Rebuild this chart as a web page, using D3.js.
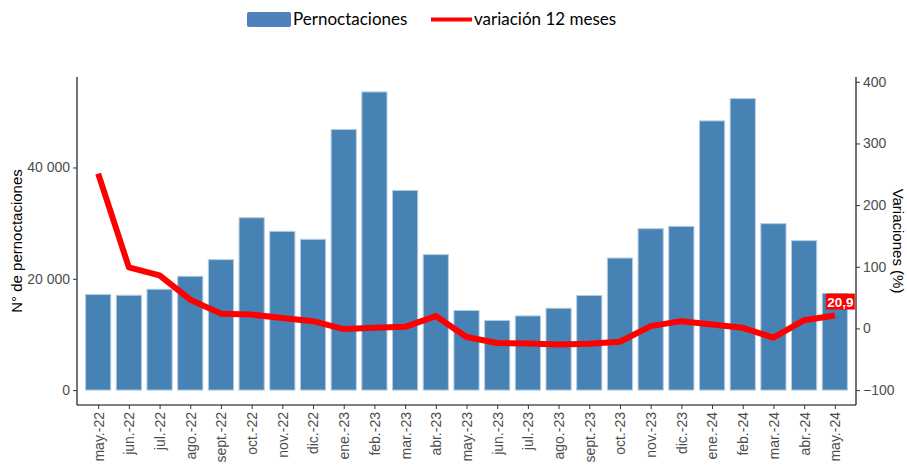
<!DOCTYPE html>
<html>
<head>
<meta charset="utf-8">
<script src="https://cdn.jsdelivr.net/npm/d3@7"></script>
<style>
  body { margin: 0; background: #fff; }
  svg { display: block; }
</style>
</head>
<body>
<div id="chart"></div>
<script>
const meses = ['may.-22', 'jun.-22', 'jul.-22', 'ago.-22', 'sept.-22', 'oct.-22', 'nov.-22', 'dic.-22',
    'ene.-23', 'feb.-23', 'mar.-23', 'abr.-23', 'may.-23', 'jun.-23', 'jul.-23', 'ago.-23', 'sept.-23',
    'oct.-23', 'nov.-23', 'dic.-23', 'ene.-24', 'feb.-24', 'mar.-24', 'abr.-24', 'may.-24']

const pernoctaciones = [17170, 17040, 18120, 20450, 23440, 30970, 28520, 27090,
    46820, 53580, 35870, 24340, 14300, 12500, 13330, 14710, 16990,
    23730, 29000, 29420, 48370, 52380, 29900, 26850, 17350]

const variacion = [251, 99, 86, 46.6, 24, 22.4, 17, 11.8,
    -1, 1, 2.6, 20, -14, -23.7, -24.3, -26, -24.8,
    -21.6, 3.7, 11.8, 6.3, 1, -15, 13.4, 20.9]

const ticksIzq = [0, 20000, 40000]
const ticksDer = [-100, 0, 100, 200, 300, 400]
const etiquetaFinal = '20,9'

// factor del eje secundario: (var + 100) * k
const k = 110.8

const width = 907, height = 466
const m = { left: 77, right: 856, top: 77, bottom: 405 }

const svg = d3.select('#chart').append('svg')
    .attr('width', width)
    .attr('height', height)
    .style('font-family', 'Liberation Sans, Arial, sans-serif')

const x = d3.scalePoint()
    .domain(meses)
    .range([m.left, m.right])
    .padding(0.69)

const maxV = d3.max(pernoctaciones)
const yL = d3.scaleLinear()
    .domain([-0.05 * maxV, 1.05 * maxV])
    .range([m.bottom, m.top])

const yR = d3.scaleLinear()
    .domain(yL.domain().map(v => v / k - 100))
    .range(yL.range())

const bw = x.step() * 0.82

// barras
svg.append('g')
    .selectAll('rect')
    .data(pernoctaciones)
    .join('rect')
    .attr('x', (d, i) => x(meses[i]) - bw / 2)
    .attr('y', d => yL(d))
    .attr('width', bw)
    .attr('height', d => yL(0) - yL(d))
    .attr('fill', '#4682B4')
    .attr('stroke', '#b4cce2')
    .attr('stroke-width', 1)

// linea variacion
const line = d3.line()
    .x((d, i) => x(meses[i]))
    .y(d => yR(d))

svg.append('path')
    .datum(variacion)
    .attr('d', line)
    .attr('fill', 'none')
    .attr('stroke', '#ff0000')
    .attr('stroke-width', 6)
    .attr('stroke-linejoin', 'round')

// etiqueta ultimo valor
const last = variacion.length - 1
const lx = x(meses[last]) + 5.5, ly = yR(variacion[last]) - 14
svg.append('rect')
    .attr('x', lx - 14.5).attr('y', ly - 8)
    .attr('width', 29).attr('height', 16)
    .attr('fill', '#ff0000')
svg.append('text')
    .attr('x', lx).attr('y', ly + 5)
    .attr('text-anchor', 'middle')
    .attr('fill', '#fff')
    .attr('font-weight', 'bold')
    .attr('font-size', 13.5)
    .text(etiquetaFinal)

// ejes
const styleAxis = g => {
    g.select('.domain').attr('stroke', '#000').attr('stroke-width', 1.1)
    g.selectAll('.tick line').attr('stroke', '#333')
    g.selectAll('.tick text').attr('fill', '#4d4d4d').style('font-size', '14px')
        .style('font-family', 'Liberation Sans, Arial, sans-serif')
}

svg.append('g')
    .attr('transform', `translate(${m.left},0)`)
    .call(d3.axisLeft(yL).tickValues(ticksIzq).tickSize(4).tickPadding(3)
        .tickFormat(d => d3.format(',')(d).replace(/,/g, ' ')).tickSizeOuter(0))
    .call(styleAxis)
    .select('.domain').attr('d', `M0,${m.top}V${m.bottom}`)

svg.append('g')
    .attr('transform', `translate(${m.right},0)`)
    .call(d3.axisRight(yR).tickValues(ticksDer).tickSize(4).tickPadding(3).tickSizeOuter(0))
    .call(styleAxis)
    .select('.domain').attr('d', `M0,${m.top}V${m.bottom}`)

const gx = svg.append('g')
    .attr('transform', `translate(0,${m.bottom})`)
    .call(d3.axisBottom(x).tickSize(4).tickSizeOuter(0))
    .call(styleAxis)
gx.select('.domain').attr('d', `M${m.left},0H${m.right}`)
gx.selectAll('.tick text')
    .attr('transform', 'rotate(-90)')
    .attr('text-anchor', 'end')
    .attr('x', -7)
    .attr('y', 0)
    .attr('dy', '0.35em')

// titulos de ejes
svg.append('text')
    .attr('transform', `translate(22,${(m.top + m.bottom) / 2}) rotate(-90)`)
    .attr('text-anchor', 'middle')
    .attr('font-size', 15)
    .attr('fill', '#000')
    .text('N° de pernoctaciones')

svg.append('text')
    .attr('transform', `translate(893,${(m.top + m.bottom) / 2}) rotate(90)`)
    .attr('text-anchor', 'middle')
    .attr('font-size', 15)
    .attr('fill', '#000')
    .text('Variaciones (%)')

// leyenda
const leg = svg.append('g').style('font-family', 'Lato, Carlito, sans-serif')
leg.append('rect')
    .attr('x', 247).attr('y', 12).attr('width', 44).attr('height', 15)
    .attr('rx', 2).attr('fill', '#4f81bd')
leg.append('text')
    .attr('x', 293).attr('y', 25).attr('font-size', 17).attr('fill', '#000')
    .text('Pernoctaciones')
leg.append('line')
    .attr('x1', 431).attr('x2', 472).attr('y1', 19.5).attr('y2', 19.5)
    .attr('stroke', '#ff0000').attr('stroke-width', 4)
leg.append('text')
    .attr('x', 474).attr('y', 25).attr('font-size', 17).attr('fill', '#000')
    .text('variación 12 meses')
</script>
</body>
</html>
